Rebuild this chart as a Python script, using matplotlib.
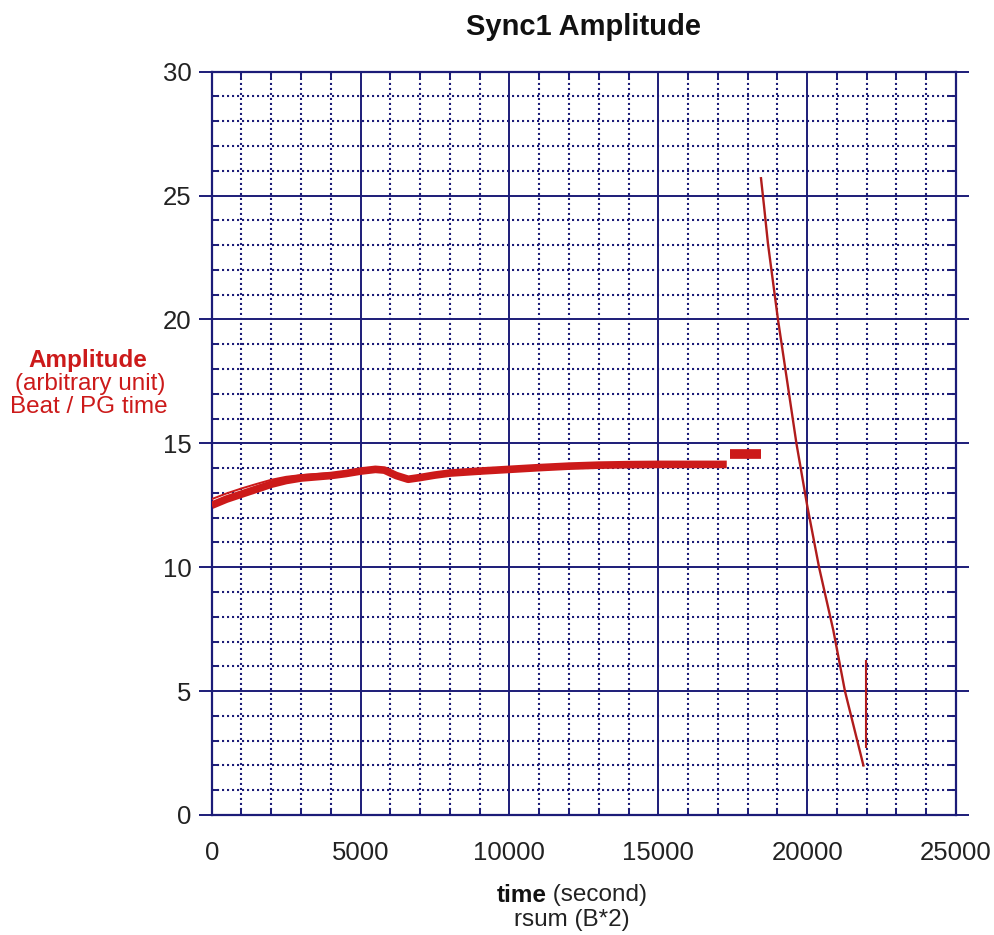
import matplotlib
matplotlib.use('Agg')
import matplotlib.pyplot as plt
from matplotlib.ticker import MultipleLocator

plt.rcParams['font.family'] = ['Liberation Sans', 'DejaVu Sans']

# main slowly-rising band (time in s, amplitude)
main_t = [0, 500, 1000, 1500, 2000, 2500, 3000, 3500, 4000, 4500, 5000,
          5500, 5800, 6200, 6600, 7000, 7500, 8000, 9000, 10000, 11000,
          12000, 13000, 14000, 15000, 16000, 17300]
main_a = [12.5, 12.75, 12.95, 13.15, 13.35, 13.5, 13.6, 13.65, 13.7, 13.78,
          13.88, 13.95, 13.92, 13.7, 13.55, 13.62, 13.72, 13.8, 13.88, 13.95,
          14.02, 14.08, 14.12, 14.14, 14.15, 14.15, 14.15]
# thin upper trace at the start
upper_t = [0, 500, 1000, 1500, 2000, 2500, 3000, 3500, 4000]
upper_a = [12.75, 12.98, 13.18, 13.36, 13.53, 13.65, 13.72, 13.76, 13.8]
# short plateau
plat_t = [17400, 18450]
plat_a = [14.55, 14.55]
# steep decline
drop_t = [18450, 18550, 18685, 19020, 19640, 20000, 20400, 20880, 21270, 21890]
drop_a = [25.7, 24.6, 23.05, 20.0, 15.0, 12.5, 10.0, 7.45, 5.0, 2.0]
# final short vertical trace
tail_t = [21970, 21970]
tail_a = [6.2, 2.75]

x_ticks = [0, 5000, 10000, 15000, 20000, 25000]
y_ticks = [0, 5, 10, 15, 20, 25, 30]

navy = '#1c1c78'
red = '#cc1a1a'
txt = '#222222'

W, H = 995, 935
fig = plt.figure(figsize=(W / 100, H / 100), dpi=100)
ax = fig.add_axes([211.7 / W, 1 - 815 / H, (956 - 211.7) / W, (815 - 71.7) / H])

ax.plot(main_t, main_a, color=red, lw=5.5, solid_capstyle='butt', zorder=3)
ax.plot(upper_t, upper_a, color=red, lw=1.4, zorder=3)
ax.plot(plat_t, plat_a, color=red, lw=7, solid_capstyle='butt', zorder=3)
ax.plot(drop_t, drop_a, color='#b01c1c', lw=1.7, zorder=3)
ax.plot(tail_t, tail_a, color='#b01c1c', lw=1.5, zorder=3)

ax.set_xlim(0, 25000)
ax.set_ylim(0, 30)
ax.set_xticks(x_ticks)
ax.set_yticks(y_ticks)
ax.xaxis.set_minor_locator(MultipleLocator(1000))
ax.yaxis.set_minor_locator(MultipleLocator(1))

ax.grid(which='major', color=navy, lw=1.4, ls='-')
ax.grid(which='minor', color=navy, lw=1.5, ls=(0, (1, 1.4)))

for s in ax.spines.values():
    s.set_color(navy)
    s.set_linewidth(1.6)

ax.tick_params(axis='y', which='major', direction='out', length=9.5, width=1.4,
               color=navy, left=True, right=True, labelsize=18.5,
               labelcolor=txt, pad=5)
ax.tick_params(axis='y', which='minor', direction='in', length=5, width=1.4,
               color=navy, left=True, right=True)
ax.tick_params(axis='x', which='major', direction='in', length=0,
               labelsize=18.5, labelcolor=txt, pad=19, top=True)
ax.tick_params(axis='x', which='minor', direction='in', length=5, width=1.4,
               color=navy, top=True, bottom=True)

fig.text(584 / W, 1 - 27 / H, 'Sync1 Amplitude', ha='center', va='center',
         fontsize=21, fontweight='bold', color='#111111')

# y label block
fig.text(88 / W, 1 - 361 / H, 'Amplitude', ha='center', va='center',
         fontsize=17.5, fontweight='bold', color=red)
fig.text(90 / W, 1 - 384 / H, '(arbitrary unit)', ha='center', va='center',
         fontsize=17.5, color=red)
fig.text(89 / W, 1 - 407 / H, 'Beat / PG time', ha='center', va='center',
         fontsize=17.5, color=red)

# x label: bold "time" + normal " (second)"
fig.canvas.draw()
r = fig.canvas.get_renderer()
yl = 1 - 895 / H
t1 = fig.text(0, yl, 'time', ha='left', va='center', fontsize=17.5,
              fontweight='bold', color='#111111')
t2 = fig.text(0, yl, ' (second)', ha='left', va='center', fontsize=17.5,
              color=txt)
w1 = t1.get_window_extent(r).width
w2 = t2.get_window_extent(r).width
x0 = 572 - (w1 + w2) / 2
t1.set_x(x0 / W)
t2.set_x((x0 + w1) / W)
fig.text(572 / W, 1 - 920 / H, 'rsum (B*2)', ha='center', va='center',
         fontsize=17.5, color=txt)

fig.savefig('out.png', dpi=100, facecolor='white')
